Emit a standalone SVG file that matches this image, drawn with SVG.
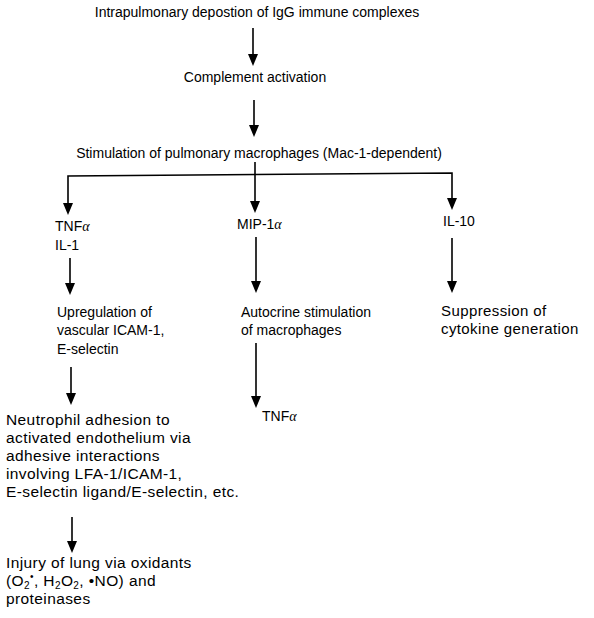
<svg xmlns="http://www.w3.org/2000/svg" width="594" height="618" viewBox="0 0 594 618">
<defs>
<style>
text{font-family:"Liberation Sans",Arial,sans-serif;font-size:14px;fill:#000}
.c{text-anchor:middle}
.M{font-size:15px;letter-spacing:0.4px}
.L{font-size:15.5px;letter-spacing:0.4px}
.g{font-family:"Liberation Serif","DejaVu Serif",serif;font-style:italic}
.ln{fill:none;stroke:#000;stroke-width:1.6}
.ah{fill:#000}
</style>
</defs>
<rect width="594" height="618" fill="#fff"/>
<g id="connectors">
<path class="ln" d="M253,28 V55"/>
<path class="ah" d="M248,54 L258,54 L253,66 Z"/>
<path class="ln" d="M254,100 V126"/>
<path class="ah" d="M249,125 L259,125 L254,137 Z"/>
<path class="ln" d="M255,162 V202"/>
<path class="ah" d="M250,201 L260,201 L255,213 Z"/>
<path class="ln" d="M68,204 V176 L452,173 V199"/>
<path class="ah" d="M63,203 L73,203 L68,215 Z"/>
<path class="ah" d="M447,198 L457,198 L452,210 Z"/>
<path class="ln" d="M70,258 V284"/>
<path class="ah" d="M65,283 L75,283 L70,295 Z"/>
<path class="ln" d="M256,237 V282"/>
<path class="ah" d="M251,281 L261,281 L256,293 Z"/>
<path class="ln" d="M452,238 V282"/>
<path class="ah" d="M447,281 L457,281 L452,293 Z"/>
<path class="ln" d="M71,367 V394"/>
<path class="ah" d="M66,393 L76,393 L71,405 Z"/>
<path class="ln" d="M256,343 V397"/>
<path class="ah" d="M251,396 L261,396 L256,408 Z"/>
<path class="ln" d="M72,517 V542"/>
<path class="ah" d="M67,541 L77,541 L72,553 Z"/>
</g>
<g id="n1"><text class="c" x="257" y="17">Intrapulmonary depostion of IgG immune complexes</text></g>
<g id="n2"><text class="c" x="255" y="82">Complement activation</text></g>
<g id="n3"><text class="c" x="259" y="158">Stimulation of pulmonary macrophages (Mac-1-dependent)</text></g>
<g id="n4"><text x="55" y="231">TNF<tspan class="g">α</tspan></text><text x="55" y="250">IL-1</text></g>
<g id="n5"><text x="237" y="229">MIP-1<tspan class="g">α</tspan></text></g>
<g id="n6"><text x="443" y="226">IL-10</text></g>
<g id="n7"><text x="57" y="317">Upregulation of</text><text x="57" y="335">vascular ICAM-1,</text><text x="57" y="354">E-selectin</text></g>
<g id="n8"><text x="241" y="317">Autocrine stimulation</text><text x="241" y="335">of macrophages</text></g>
<g id="n9"><text class="M" x="441" y="316">Suppression of</text><text class="M" x="441" y="334">cytokine generation</text></g>
<g id="n10"><text class="L" x="6" y="425">Neutrophil adhesion to</text><text class="L" x="6" y="443">activated endothelium via</text><text class="L" x="6" y="461">adhesive interactions</text><text class="L" x="6" y="479">involving LFA-1/ICAM-1,</text><text class="L" x="6" y="497">E-selectin ligand/E-selectin, etc.</text></g>
<g id="n11"><text x="262" y="421">TNF<tspan class="g">α</tspan></text></g>
<g id="n12"><text class="L" x="6" y="568">Injury of lung via oxidants</text><text class="L" x="6" y="586">(O<tspan font-size="10" dy="3">2</tspan><tspan font-size="10" dy="-9">•</tspan><tspan dy="6">, H</tspan><tspan font-size="10" dy="3">2</tspan><tspan dy="-3">O</tspan><tspan font-size="10" dy="3">2</tspan><tspan dy="-3">, •NO) and</tspan></text><text class="L" x="6" y="604">proteinases</text></g>
</svg>
